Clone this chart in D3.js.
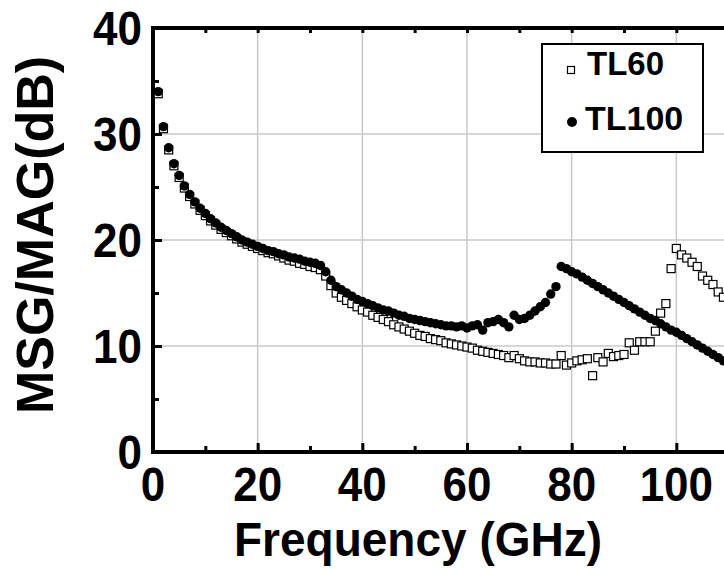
<!DOCTYPE html>
<html>
<head>
<meta charset="utf-8">
<script src="https://cdn.jsdelivr.net/npm/d3@7"></script>
<style>
  html, body { margin: 0; padding: 0; background: #fff; }
  svg { display: block; }
  text { font-family: "Liberation Sans", Arial, sans-serif; font-weight: bold; fill: #000; }
</style>
</head>
<body>
<svg id="chart" width="724" height="569"></svg>
<script>
// ---- data ----
const freq = [1,2,3,4,5,6,7,8,9,10,11,12,13,14,15,16,17,18,19,20,
  21,22,23,24,25,26,27,28,29,30,31,32,33,34,35,36,37,38,39,40,
  41,42,43,44,45,46,47,48,49,50,51,52,53,54,55,56,57,58,59,60,
  61,62,63,64,65,66,67,68,69,70,71,72,73,74,75,76,77,78,79,80,
  81,82,83,84,85,86,87,88,89,90,91,92,93,94,95,96,97,98,99,100,
  101,102,103,104,105,106,107,108,109,110];

const tl60 = [33.8,30.5,28.5,27.0,25.9,24.9,24.1,23.4,22.8,22.3,
  21.8,21.4,21.0,20.7,20.4,20.1,19.8,19.6,19.4,19.2,
  19.0,18.8,18.7,18.5,18.3,18.1,18.0,17.8,17.7,17.5,
  17.4,17.2,16.6,15.7,15.0,14.6,14.3,14.0,13.7,13.4,
  13.2,12.9,12.7,12.5,12.3,12.0,11.8,11.6,11.4,11.2,
  11.0,10.9,10.7,10.6,10.5,10.3,10.2,10.1,10.0,9.9,
  9.8,9.6,9.5,9.4,9.3,9.2,9.1,8.9,9.1,8.8,
  8.6,8.5,8.5,8.4,8.4,8.3,8.3,9.1,8.2,8.4,
  8.6,8.7,8.8,7.2,8.9,8.5,9.3,9.0,9.1,9.2,
  10.3,9.6,10.4,10.4,10.4,11.4,13.1,14.0,17.3,19.2,
  18.6,18.3,17.9,17.5,16.6,16.2,15.8,15.1,14.6,14.1];

const tl100 = [34.0,30.7,28.7,27.2,26.1,25.1,24.3,23.6,23.0,22.5,
  22.0,21.6,21.2,20.9,20.6,20.3,20.0,19.8,19.6,19.4,
  19.2,19.0,18.9,18.7,18.6,18.4,18.3,18.2,18.0,17.9,
  17.8,17.6,17.0,16.2,15.6,15.3,15.0,14.7,14.4,14.2,
  14.0,13.8,13.6,13.4,13.3,13.1,12.9,12.8,12.6,12.5,
  12.4,12.3,12.2,12.1,12.0,11.9,11.9,11.8,11.9,11.7,
  11.9,12.0,11.5,12.2,12.3,12.5,12.2,11.8,12.9,12.5,
  12.6,12.9,13.3,13.7,14.1,14.9,15.6,17.5,17.3,17.0,
  16.8,16.5,16.2,15.9,15.6,15.3,15.0,14.7,14.4,14.1,
  13.8,13.5,13.2,12.9,12.6,12.4,12.1,11.8,11.5,11.3,
  11.0,10.7,10.4,10.1,9.8,9.5,9.2,8.9,8.6,8.3];

const xMajor = [0,20,40,60,80,100,120];
const xMinor = [10,30,50,70,90,110];
const yMajor = [0,10,20,30,40];
const yMinor = [5,15,25,35];
const xLabelValues = [0,20,40,60,80,100];
const xTickLabels = ["0","20","40","60","80","100"];
const yTickLabels = ["0","10","20","30","40"];
const seriesNames = ["TL60","TL100"];
const xTitle = "Frequency (GHz)";
const yTitle = "MSG/MAG(dB)";

// ---- layout ----
const svg = d3.select("#chart");
const x = d3.scaleLinear().domain([0,120]).range([153,781]);
const y = d3.scaleLinear().domain([0,40]).range([452,28]);

// gridlines
const grid = svg.append("g");
grid.selectAll("line.gx").data(xMajor.slice(1)).join("line")
  .attr("class","gx")
  .attr("x1", d => x(d)).attr("x2", d => x(d))
  .attr("y1", y(0)).attr("y2", y(40))
  .attr("stroke", "#c8c8c8").attr("stroke-width", 1.5);
grid.selectAll("line.gy").data(yMajor.slice(1, -1)).join("line")
  .attr("class","gy")
  .attr("x1", x(0)).attr("x2", x(120))
  .attr("y1", d => y(d)).attr("y2", d => y(d))
  .attr("stroke", "#c8c8c8").attr("stroke-width", 1.5);

// axes ticks (inward) via d3 axes
function styleAxis(g) {
  g.select(".domain").remove();
  g.selectAll(".tick line").attr("stroke", "#000").attr("stroke-width", 3);
  g.selectAll(".tick text").remove();
}
svg.append("g").attr("transform", `translate(0,${y(0)})`)
  .call(d3.axisBottom(x).tickValues(xMajor).tickSize(-9)).call(styleAxis);
svg.append("g").attr("transform", `translate(0,${y(0)})`)
  .call(d3.axisBottom(x).tickValues(xMinor).tickSize(-6)).call(styleAxis);
svg.append("g").attr("transform", `translate(0,${y(40)})`)
  .call(d3.axisTop(x).tickValues(xMajor.concat(xMinor)).tickSize(-5)).call(styleAxis);
svg.append("g").attr("transform", `translate(${x(0)},0)`)
  .call(d3.axisLeft(y).tickValues(yMajor).tickSize(-9)).call(styleAxis);
svg.append("g").attr("transform", `translate(${x(0)},0)`)
  .call(d3.axisLeft(y).tickValues(yMinor).tickSize(-6)).call(styleAxis);

// frame
svg.append("rect")
  .attr("x", x(0)).attr("y", y(40))
  .attr("width", x(120) - x(0)).attr("height", y(0) - y(40))
  .attr("fill", "none").attr("stroke", "#000").attr("stroke-width", 4);

// tick labels
svg.selectAll("text.xl").data(xLabelValues).join("text")
  .attr("class","xl")
  .attr("text-anchor", "middle")
  .attr("transform", d => `translate(${x(d)},501) scale(1,1.1)`)
  .style("font-size", "44px")
  .text((d,i) => xTickLabels[i]);
svg.selectAll("text.yl").data(yMajor).join("text")
  .attr("class","yl")
  .attr("text-anchor", "end")
  .attr("transform", d => `translate(142,${y(d) + 17}) scale(1,1.08)`)
  .style("font-size", "44px")
  .text((d,i) => yTickLabels[i]);

// axis titles
svg.append("text")
  .attr("text-anchor", "middle")
  .attr("transform", "translate(418,556) scale(1,1.06)")
  .style("font-size", "46px")
  .text(xTitle);
svg.append("text")
  .attr("text-anchor", "middle")
  .attr("transform", "translate(53,235) rotate(-90)")
  .style("font-size", "52px")
  .text(yTitle);

// data markers
const plot = svg.append("g");
const d60 = freq.map((f,i) => [f, tl60[i]]);
const d100 = freq.map((f,i) => [f, tl100[i]]);
const sq = 8;
plot.selectAll("rect.s60").data(d60).join("rect")
  .attr("class","s60")
  .attr("x", d => x(d[0]) - sq/2).attr("y", d => y(d[1]) - sq/2)
  .attr("width", sq).attr("height", sq)
  .attr("fill", "#fff").attr("stroke", "#000").attr("stroke-width", 1.2);
plot.selectAll("circle.s100").data(d100).join("circle")
  .attr("class","s100")
  .attr("cx", d => x(d[0])).attr("cy", d => y(d[1]))
  .attr("r", 4.7).attr("fill", "#000");

// legend
const lg = svg.append("g");
lg.append("rect").attr("x", 542).attr("y", 44).attr("width", 161).attr("height", 108)
  .attr("fill", "#fff").attr("stroke", "#000").attr("stroke-width", 2);
lg.append("rect").attr("x", 567.5).attr("y", 66.5).attr("width", 7).attr("height", 7)
  .attr("fill", "#fff").attr("stroke", "#000").attr("stroke-width", 1.2);
lg.append("circle").attr("cx", 572).attr("cy", 122).attr("r", 5).attr("fill", "#000");
lg.append("text").attr("x", 587).attr("y", 75).style("font-size", "33px").text(seriesNames[0]);
lg.append("text").attr("x", 585).attr("y", 130).style("font-size", "34px").text(seriesNames[1]);
</script>
</body>
</html>
